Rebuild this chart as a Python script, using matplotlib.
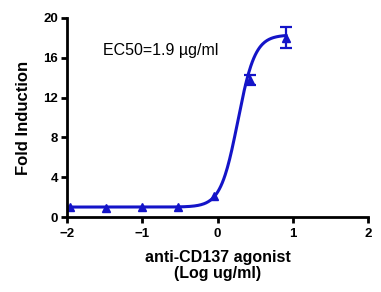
import numpy as np
import matplotlib
matplotlib.use("Agg")
import matplotlib.pyplot as plt

plt.rcParams['font.family'] = ['Liberation Sans', 'DejaVu Sans']

log_conc = [-1.96, -1.48, -1.0, -0.52, -0.04, 0.43, 0.91]
fold = [1.0, 0.95, 1.0, 1.0, 2.1, 13.8, 18.0]
err = [0.0, 0.0, 0.0, 0.0, 0.0, 0.5, 1.05]

# 4PL fit parameters
bottom, top, log_ec50, hill = 1.0, 18.3, 0.27, 3.8

color = '#1414C8'
fig = plt.figure(figsize=(3.81, 2.92), dpi=100)
ax = fig.add_axes([67/381, 1-217/292, 301/381, 199/292])

xs = np.linspace(-2, 0.91, 300)
ys = bottom + (top - bottom) / (1 + 10 ** ((log_ec50 - xs) * hill))
ax.plot(xs, ys, color=color, lw=2.2)
ax.plot(log_conc, fold, '^', color=color, ms=6)
ex = [x for x, e in zip(log_conc, err) if e > 0]
ey = [y for y, e in zip(fold, err) if e > 0]
ee = [e for e in err if e > 0]
ax.errorbar(ex, ey, yerr=ee, fmt='none', ecolor=color,
            capsize=4, elinewidth=1.6, capthick=1.6)

ax.set_xlim(-2, 2)
ax.set_ylim(0, 20)
ax.set_xticks([-2, -1, 0, 1, 2])
ax.set_yticks([0, 4, 8, 12, 16, 20])
for s in ['top', 'right']:
    ax.spines[s].set_visible(False)
for s in ['left', 'bottom']:
    ax.spines[s].set_linewidth(2)
ax.tick_params(width=2, length=4.5, labelsize=9.5)
ax.tick_params(axis='y', pad=2)
for lab in ax.get_xticklabels() + ax.get_yticklabels():
    lab.set_fontweight('bold')
ax.set_xlabel('anti-CD137 agonist\n(Log ug/ml)', fontsize=11.5, fontweight='bold',
              labelpad=7, linespacing=1.1)
ax.set_ylabel('Fold Induction', fontsize=12, fontweight='bold', labelpad=9)
ax.text(-1.52, 16.3, 'EC50=1.9 \u00b5g/ml', fontsize=11.5, va='baseline')

fig.savefig('out.png', dpi=100)
